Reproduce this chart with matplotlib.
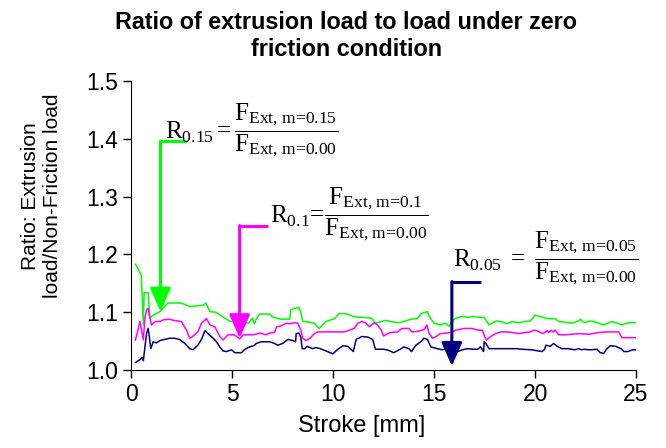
import numpy as np
import matplotlib.pyplot as plt

plt.rcParams['font.family'] = ['Liberation Sans', 'DejaVu Sans']
plt.rcParams['mathtext.fontset'] = 'custom'
plt.rcParams['mathtext.rm'] = 'Liberation Serif'
plt.rcParams['mathtext.it'] = 'Liberation Serif:italic'

# stroke [mm] and ratio for m = 0.15 (green)
x_015 = [0.21, 0.35, 0.5, 0.6, 0.64, 0.84, 0.92, 1.09, 1.42, 1.6, 1.83, 2.48, 2.9, 3.56, 3.7, 3.9,
         4.2, 4.4, 4.9, 5.3, 5.8, 6.0, 6.1, 6.19, 6.35, 6.85, 7.0, 7.4, 7.85, 7.9, 8.1, 8.3, 8.4,
         8.5, 8.8, 9.07, 9.3, 9.65, 10.07, 10.3, 10.7, 10.9, 11.1, 11.5, 11.9, 12.1, 12.3, 12.6,
         13.0, 13.27, 13.6, 13.85, 14.17, 14.37, 14.67, 14.75, 15.0, 15.33, 15.55, 15.74, 16.0,
         16.2, 16.4, 16.65, 16.9, 17.06, 17.48, 17.56, 17.72, 17.9, 18.1, 18.4, 18.6, 18.86, 19.2,
         19.5, 19.77, 19.9, 20.0, 20.2, 20.4, 20.6, 21.0, 21.17, 21.67, 21.85, 22.16, 22.25, 22.35,
         22.5, 22.7, 22.9, 23.15, 23.4, 23.6, 23.8, 24.0, 24.3, 24.5, 24.7, 25.0]
r_015 = [1.183, 1.175, 1.164, 1.078, 1.134, 1.134, 1.090, 1.095, 1.101, 1.108, 1.116, 1.116, 1.110,
         1.112, 1.116, 1.101, 1.100, 1.095, 1.084, 1.084, 1.081, 1.090, 1.080, 1.088, 1.097, 1.097,
         1.092, 1.088, 1.088, 1.104, 1.107, 1.108, 1.100, 1.084, 1.083, 1.081, 1.072, 1.084, 1.089,
         1.098, 1.097, 1.094, 1.092, 1.091, 1.090, 1.081, 1.083, 1.086, 1.083, 1.082, 1.085, 1.088,
         1.089, 1.098, 1.101, 1.093, 1.081, 1.078, 1.081, 1.076, 1.088, 1.091, 1.093, 1.091, 1.093,
         1.092, 1.091, 1.087, 1.078, 1.082, 1.085, 1.083, 1.080, 1.084, 1.082, 1.084, 1.085, 1.091,
         1.095, 1.093, 1.091, 1.089, 1.089, 1.084, 1.082, 1.081, 1.085, 1.088, 1.084, 1.082, 1.085,
         1.084, 1.081, 1.078, 1.081, 1.084, 1.082, 1.078, 1.081, 1.082, 1.082]

# m = 0.1 (magenta)
x_01 = [0.21, 0.3, 0.43, 0.5, 0.6, 0.68, 0.76, 0.84, 0.9, 1.0, 1.2, 1.42, 1.6, 1.9, 2.1, 2.48, 2.74,
        2.9, 3.0, 3.3, 3.48, 3.73, 3.9, 4.14, 4.39, 4.55, 4.8, 5.1, 5.38, 5.55, 6.0, 6.19, 6.35,
        6.68, 6.85, 7.1, 7.2, 7.4, 7.67, 7.85, 8.08, 8.25, 8.4, 8.5, 8.66, 8.85, 9.07, 9.24, 10.56,
        10.8, 11.04, 11.22, 11.43, 11.6, 11.8, 12.04, 12.2, 12.38, 12.5, 12.7, 12.85, 13.2, 13.4,
        13.75, 13.9, 14.2, 14.5, 14.64, 14.75, 14.92, 15.1, 15.3, 15.65, 15.83, 16.07, 16.5, 16.85,
        17.2, 17.4, 17.5, 17.6, 17.8, 18.05, 18.3, 18.6, 18.86, 19.2, 19.5, 19.77, 19.93, 20.1,
        20.4, 20.6, 20.67, 20.8, 20.9, 21.0, 21.17, 21.5, 21.85, 22.16, 22.7, 23.15, 23.6, 24.14,
        24.3, 25.0]
r_01 = [1.052, 1.064, 1.084, 1.072, 1.052, 1.090, 1.104, 1.107, 1.095, 1.078, 1.084, 1.084, 1.087,
        1.088, 1.086, 1.084, 1.069, 1.055, 1.057, 1.066, 1.081, 1.089, 1.078, 1.075, 1.058, 1.052,
        1.061, 1.061, 1.054, 1.061, 1.061, 1.062, 1.064, 1.061, 1.064, 1.065, 1.075, 1.076, 1.081,
        1.080, 1.082, 1.081, 1.069, 1.055, 1.051, 1.055, 1.063, 1.066, 1.066, 1.069, 1.072, 1.081,
        1.084, 1.082, 1.075, 1.082, 1.078, 1.069, 1.059, 1.063, 1.065, 1.066, 1.072, 1.072, 1.066,
        1.067, 1.070, 1.078, 1.064, 1.055, 1.058, 1.063, 1.064, 1.065, 1.069, 1.072, 1.072, 1.069,
        1.069, 1.058, 1.052, 1.058, 1.063, 1.066, 1.066, 1.065, 1.063, 1.065, 1.066, 1.069, 1.068,
        1.063, 1.068, 1.065, 1.069, 1.066, 1.069, 1.061, 1.061, 1.062, 1.063, 1.062, 1.065, 1.066,
        1.066, 1.056, 1.056]

# m = 0.05 (navy)
x_005 = [0.21, 0.43, 0.54, 0.6, 0.68, 0.76, 0.84, 0.92, 0.97, 1.09, 1.25, 1.42, 1.65, 1.9, 2.15,
         2.39, 2.66, 2.9, 3.06, 3.3, 3.48, 3.65, 3.8, 4.06, 4.2, 4.39, 4.55, 4.72, 4.97, 5.13, 5.46,
         5.6, 5.79, 6.12, 6.19, 6.45, 6.85, 7.1, 7.26, 7.5, 7.76, 8.0, 8.14, 8.17, 8.3, 8.4, 8.47,
         8.6, 8.7, 8.99, 9.15, 9.36, 9.65, 9.98, 10.2, 10.48, 10.73, 11.0, 11.14, 11.43, 11.72,
         11.96, 12.09, 12.5, 12.75, 13.0, 13.27, 13.5, 13.75, 13.88, 14.1, 14.34, 14.5, 14.67,
         14.84, 15.16, 15.4, 15.65, 16.0, 16.4, 16.65, 16.9, 17.15, 17.3, 17.45, 17.48, 17.56,
         17.72, 18.1, 18.9, 19.1, 19.35, 19.84, 20.0, 20.35, 20.47, 20.54, 20.75, 20.92, 21.1,
         21.32, 21.65, 21.98, 22.15, 22.3, 22.4, 22.75, 23.07, 23.23, 23.4, 23.56, 23.73, 24.0,
         24.25, 24.4, 24.6, 24.83, 25.0]
r_005 = [1.013, 1.018, 1.022, 1.016, 1.040, 1.063, 1.072, 1.052, 1.037, 1.049, 1.047, 1.051, 1.053,
         1.055, 1.055, 1.053, 1.046, 1.037, 1.035, 1.043, 1.053, 1.068, 1.063, 1.055, 1.050, 1.040,
         1.033, 1.032, 1.035, 1.030, 1.030, 1.035, 1.039, 1.043, 1.046, 1.049, 1.049, 1.046, 1.043,
         1.046, 1.053, 1.051, 1.049, 1.063, 1.064, 1.057, 1.037, 1.037, 1.041, 1.037, 1.039, 1.037,
         1.033, 1.028, 1.035, 1.042, 1.041, 1.032, 1.053, 1.058, 1.057, 1.053, 1.036, 1.036, 1.034,
         1.030, 1.035, 1.040, 1.037, 1.032, 1.043, 1.049, 1.055, 1.053, 1.040, 1.037, 1.035, 1.037,
         1.030, 1.035, 1.037, 1.036, 1.036, 1.040, 1.032, 1.049, 1.046, 1.037, 1.037, 1.037, 1.037,
         1.036, 1.035, 1.034, 1.032, 1.036, 1.043, 1.041, 1.046, 1.041, 1.037, 1.037, 1.035, 1.037,
         1.035, 1.036, 1.035, 1.036, 1.030, 1.029, 1.037, 1.042, 1.041, 1.037, 1.032, 1.032, 1.035,
         1.035]

green = '#00ff00'
magenta = '#ff00ff'
navy = '#000080'

fig = plt.figure(figsize=(6.66, 4.48), dpi=100)
ax = fig.add_axes([0.197, 0.174, 0.758, 0.645])

ax.plot(x_015, r_015, color=green, lw=1.1)
ax.plot(x_01, r_01, color=magenta, lw=1.1)
ax.plot(x_005, r_005, color=navy, lw=1.1)

ax.set_xlim(0, 25)
ax.set_ylim(1.0, 1.5)
ax.set_xticks([0, 5, 10, 15, 20, 25])
ax.set_yticks([1.0, 1.1, 1.2, 1.3, 1.4, 1.5])
ax.yaxis.set_major_formatter(plt.FormatStrFormatter('%.1f'))
ax.spines['top'].set_visible(False)
ax.spines['right'].set_visible(False)
ax.tick_params(labelsize=16.5, length=5.5, width=1, direction='out', pad=4)

# axis labels and title placed at figure level
fig.text(0.5435, 1 - 432 / 448, 'Stroke [mm]', fontsize=17, ha='center', va='baseline')
fig.text(0.063, 0.5625, 'Ratio: Extrusion\nload/Non-Friction load', fontsize=15,
         rotation=90, ha='center', va='center', multialignment='center')
fig.text(0.52, 0.975, 'Ratio of extrusion load to load under zero\nfriction condition',
         fontsize=16.8, fontweight='bold', ha='center', va='top', linespacing=1.2)

# bracket arrows: (corner x, corner y, end of horizontal, arrow tip y, colour)
arrows = [(1.45, 1.396, 2.78, 1.101, green),
          (5.37, 1.250, 6.75, 1.055, magenta),
          (15.88, 1.153, 17.30, 1.007, navy)]
for xc, yc, xe, yt, col in arrows:
    ax.plot([xe, xc], [yc, yc], color=col, lw=2.2, solid_capstyle='butt')
    ax.annotate('', xy=(xc, yt), xytext=(xc, yc),
                arrowprops=dict(arrowstyle='-|>,head_length=0.95,head_width=0.42',
                                mutation_scale=15, lw=2.2, color=col,
                                shrinkA=0, shrinkB=0))

fs = 18
ax.text(1.68, 1.415, r'$\mathrm{R_{0.15}}=\dfrac{\mathrm{F}_{\text{Ext, m=0.15}}}{\mathrm{F}_{\text{Ext, m=0.00}}}$',
        fontsize=fs, va='center', ha='left')
ax.text(6.88, 1.27, r'$\mathrm{R_{0.1}}\!=\!\dfrac{\mathrm{F}_{\text{Ext, m=0.1}}}{\mathrm{F}_{\text{Ext, m=0.00}}}$',
        fontsize=fs, va='center', ha='left')
ax.text(15.94, 1.194, r'$\mathrm{R_{0.05}}\ =\ \dfrac{\mathrm{F}_{\text{Ext, m=0.05}}}{\mathrm{F}_{\text{Ext, m=0.00}}}$',
        fontsize=fs, va='center', ha='left')

fig.savefig('out.png', dpi=100)
